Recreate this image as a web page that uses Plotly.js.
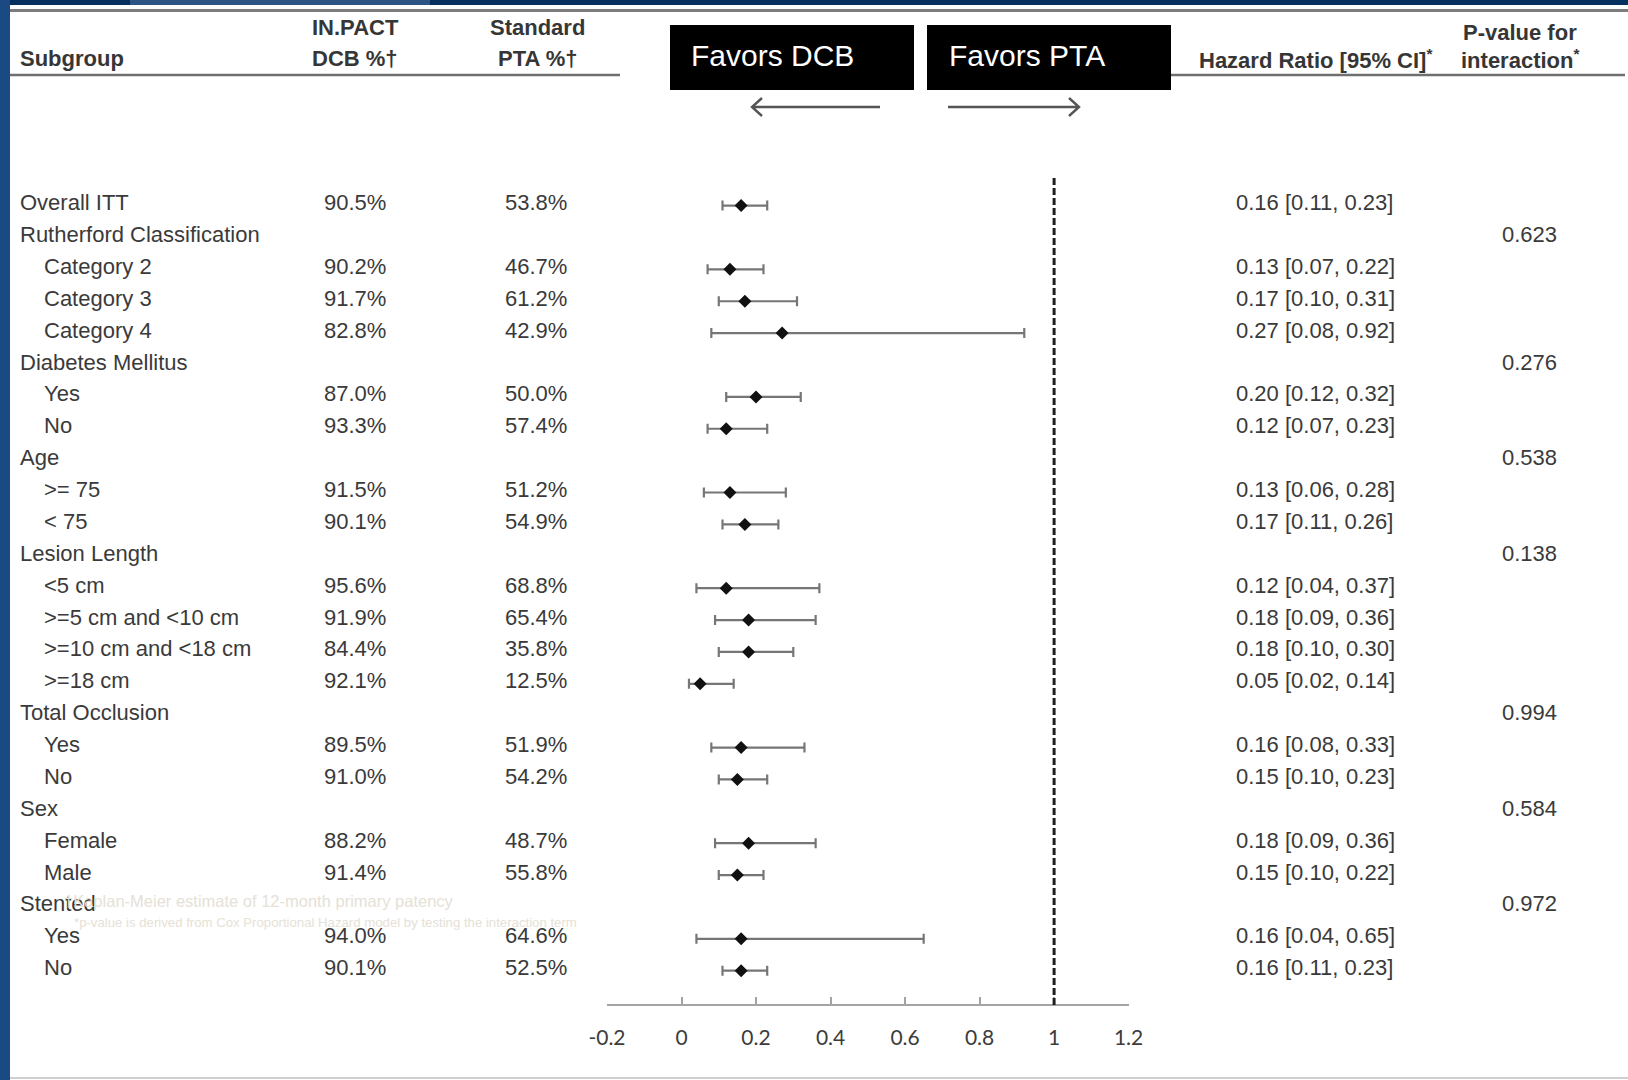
<!DOCTYPE html>
<html>
<head>
<meta charset="utf-8">
<script src="https://cdn.plot.ly/plotly-3.0.1.min.js"></script>
<style>
  html, body { margin: 0; padding: 0; background: #ffffff; }
  #chart { width: 1628px; height: 1080px; }
</style>
</head>
<body>
<div id="chart"></div>
<script>
// Subgroup rows, top to bottom
const subgroups = [
  'Overall ITT',
  'Rutherford Classification', 'Category 2', 'Category 3', 'Category 4',
  'Diabetes Mellitus', 'Yes', 'No',
  'Age', '>= 75', '< 75',
  'Lesion Length', '<5 cm', '>=5 cm and <10 cm', '>=10 cm and <18 cm', '>=18 cm',
  'Total Occlusion', 'Yes', 'No',
  'Sex', 'Female', 'Male',
  'Stented', 'Yes', 'No'
];
// 0 = group heading, 1 = level inside a group
const subgroupLevel = [0, 0,1,1,1, 0,1,1, 0,1,1, 0,1,1,1,1, 0,1,1, 0,1,1, 0,1,1];

// 12-month primary patency (%)
const dcbPct = ['90.5%', '', '90.2%', '91.7%', '82.8%', '', '87.0%', '93.3%', '', '91.5%', '90.1%',
  '', '95.6%', '91.9%', '84.4%', '92.1%', '', '89.5%', '91.0%', '', '88.2%', '91.4%', '', '94.0%', '90.1%'];
const ptaPct = ['53.8%', '', '46.7%', '61.2%', '42.9%', '', '50.0%', '57.4%', '', '51.2%', '54.9%',
  '', '68.8%', '65.4%', '35.8%', '12.5%', '', '51.9%', '54.2%', '', '48.7%', '55.8%', '', '64.6%', '52.5%'];

// Hazard ratios with 95% confidence limits
const hazardRatio = [0.16, null, 0.13, 0.17, 0.27, null, 0.20, 0.12, null, 0.13, 0.17,
  null, 0.12, 0.18, 0.18, 0.05, null, 0.16, 0.15, null, 0.18, 0.15, null, 0.16, 0.16];
const ciLower = [0.11, null, 0.07, 0.10, 0.08, null, 0.12, 0.07, null, 0.06, 0.11,
  null, 0.04, 0.09, 0.10, 0.02, null, 0.08, 0.10, null, 0.09, 0.10, null, 0.04, 0.11];
const ciUpper = [0.23, null, 0.22, 0.31, 0.92, null, 0.32, 0.23, null, 0.28, 0.26,
  null, 0.37, 0.36, 0.30, 0.14, null, 0.33, 0.23, null, 0.36, 0.22, null, 0.65, 0.23];

// Interaction p-values, given on the group heading rows
const pInteraction = ['', '0.623', '', '', '', '0.276', '', '', '0.538', '', '',
  '0.138', '', '', '', '', '0.994', '', '', '0.584', '', '', '0.972', '', ''];

// Hazard ratio axis
const axisTicks = [-0.2, 0, 0.2, 0.4, 0.6, 0.8, 1, 1.2];
const axisTickText = ['-0.2', '0', '0.2', '0.4', '0.6', '0.8', '1', '1.2'];
const noEffect = 1;

// ---- page geometry (pixels) ----
const W = 1628, H = 1080;
const px = x => x / W;
const py = y => 1 - y / H;
const ROW0 = 205.6, ROWH = 31.88;          // first row centre and row pitch
const rowOf = y => (y - ROW0) / ROWH;       // pixel -> row coordinate

const textFont = { family: 'Liberation Sans, Arial, sans-serif', size: 22, color: '#3a3a3a' };
const headFont = { family: 'Liberation Sans, Arial, sans-serif', size: 22, color: '#363636' };

// ---- forest plot marks ----
const rows = subgroups.map((_, i) => i).filter(i => hazardRatio[i] !== null);
const forest = {
  type: 'scatter',
  mode: 'markers',
  x: rows.map(i => hazardRatio[i]),
  y: rows,
  marker: { symbol: 'diamond', size: 10, color: '#111111' },
  error_x: {
    type: 'data',
    symmetric: false,
    array: rows.map(i => ciUpper[i] - hazardRatio[i]),
    arrayminus: rows.map(i => hazardRatio[i] - ciLower[i]),
    color: '#767676',
    thickness: 2.2,
    width: 5
  },
  hoverinfo: 'skip',
  showlegend: false,
  cliponaxis: false
};

// ---- table text ----
const annotations = [];
const addText = (text, x, y, opts) => annotations.push(Object.assign({
  text, x, y, xref: 'paper', yref: 'y', showarrow: false,
  xanchor: 'left', yanchor: 'middle', font: textFont, yshift: 3
}, opts || {}));

subgroups.forEach((name, i) => {
  addText(name, px(subgroupLevel[i] ? 42 : 18), i);
  if (dcbPct[i]) addText(dcbPct[i], px(355), i, { xanchor: 'center' });
  if (ptaPct[i]) addText(ptaPct[i], px(536), i, { xanchor: 'center' });
  if (hazardRatio[i] !== null) {
    const t = hazardRatio[i].toFixed(2) + ' [' + ciLower[i].toFixed(2) + ', ' + ciUpper[i].toFixed(2) + ']';
    addText(t, px(1234), i);
  }
  if (pInteraction[i]) addText(pInteraction[i], px(1529), i, { xanchor: 'center' });
});

// column headings
const addHead = (text, x, y, anchor) => annotations.push({
  text: '<b>' + text + '</b>', x: px(x), y: py(y), xref: 'paper', yref: 'paper',
  showarrow: false, xanchor: anchor, yanchor: 'middle', font: headFont
});
addHead('Subgroup', 18, 59, 'left');
addHead('IN.PACT', 355, 28, 'center');
addHead('DCB %†', 355, 59, 'center');
addHead('Standard', 537, 28, 'center');
addHead('PTA %†', 537, 59, 'center');
addHead('Hazard Ratio [95% CI]<sup>*</sup>', 1315, 59, 'center');
addHead('P-value for', 1520, 32, 'center');
addHead('interaction<sup>*</sup>', 1520, 59, 'center');

// direction labels inside the black boxes
const boxFont = { family: 'Liberation Sans, Arial, sans-serif', size: 30, color: '#ffffff' };
annotations.push({ text: 'Favors DCB', x: px(689), y: py(55), xref: 'paper', yref: 'paper',
  showarrow: false, xanchor: 'left', yanchor: 'middle', font: boxFont });
annotations.push({ text: 'Favors PTA', x: px(947), y: py(55), xref: 'paper', yref: 'paper',
  showarrow: false, xanchor: 'left', yanchor: 'middle', font: boxFont });

// footnotes
annotations.push({ text: '†Kaplan-Meier estimate of 12-month primary patency', x: px(62), y: py(901),
  xref: 'paper', yref: 'paper', showarrow: false, xanchor: 'left', yanchor: 'middle',
  font: { family: 'Liberation Sans, Arial, sans-serif', size: 16.5, color: '#e6e1d6' } });
annotations.push({ text: '*p-value is derived from Cox Proportional Hazard model by testing the interaction term',
  x: px(72), y: py(922), xref: 'paper', yref: 'paper', showarrow: false, xanchor: 'left', yanchor: 'middle',
  font: { family: 'Liberation Sans, Arial, sans-serif', size: 13.2, color: '#e6e1d6' } });

// arrow drawn as an open chevron on a shaft (paper coordinates)
const arrowPath = (tail, head, y) => {
  const d = head < tail ? 1 : -1;
  return 'M' + px(tail) + ',' + py(y) + ' L' + px(head) + ',' + py(y) +
    ' M' + px(head + d * 10) + ',' + py(y - 9) + ' L' + px(head) + ',' + py(y) +
    ' L' + px(head + d * 10) + ',' + py(y + 9);
};

// ---- frame, rules and boxes ----
const shapes = [
  // navy frame
  { type: 'rect', xref: 'paper', yref: 'paper', x0: 0, x1: 1, y0: py(5), y1: 1,
    fillcolor: '#06305f', line: { width: 0 }, layer: 'below' },
  { type: 'rect', xref: 'paper', yref: 'paper', x0: px(130), x1: px(430), y0: py(5), y1: 1,
    fillcolor: '#2c5585', line: { width: 0 }, layer: 'below' },
  { type: 'rect', xref: 'paper', yref: 'paper', x0: 0, x1: px(10), y0: 0, y1: 1,
    fillcolor: '#1b4a82', line: { width: 0 }, layer: 'below' },
  // table rules
  { type: 'line', xref: 'paper', yref: 'paper', x0: px(10), x1: 1, y0: py(10.5), y1: py(10.5),
    line: { color: '#7d7d7d', width: 3 } },
  { type: 'line', xref: 'paper', yref: 'paper', x0: px(10), x1: px(620), y0: py(75), y1: py(75),
    line: { color: '#6f6f6f', width: 2.5 } },
  { type: 'line', xref: 'paper', yref: 'paper', x0: px(1171), x1: px(1625), y0: py(75), y1: py(75),
    line: { color: '#6f6f6f', width: 2.5 } },
  { type: 'line', xref: 'paper', yref: 'paper', x0: px(10), x1: 1, y0: py(1078), y1: py(1078),
    line: { color: '#cfcfcf', width: 2 } },
  // black label boxes
  { type: 'rect', xref: 'paper', yref: 'paper', x0: px(670), x1: px(914), y0: py(90), y1: py(25),
    fillcolor: '#000000', line: { width: 0 } },
  { type: 'rect', xref: 'paper', yref: 'paper', x0: px(927), x1: px(1171), y0: py(90), y1: py(25),
    fillcolor: '#000000', line: { width: 0 } },
  // direction arrows
  { type: 'path', xref: 'paper', yref: 'paper', path: arrowPath(880, 752, 107),
    line: { color: '#555555', width: 2.4 } },
  { type: 'path', xref: 'paper', yref: 'paper', path: arrowPath(948, 1079, 107),
    line: { color: '#555555', width: 2.4 } },
  // line of no effect
  { type: 'line', xref: 'x', yref: 'y', x0: noEffect, x1: noEffect, y0: rowOf(178), y1: rowOf(1005),
    line: { color: '#1e1e1e', width: 3, dash: '7px,3px' } }
];

const layout = {
  width: W, height: H,
  margin: { l: 0, r: 0, t: 0, b: 0, pad: 0 },
  paper_bgcolor: '#ffffff',
  plot_bgcolor: 'rgba(0,0,0,0)',
  showlegend: false,
  xaxis: {
    domain: [px(607), px(1128.6)],
    range: [-0.2, 1.2],
    anchor: 'free',
    position: py(1005),
    showline: true, linecolor: '#a3a3a3', linewidth: 2,
    showgrid: false, zeroline: false,
    ticks: 'inside', ticklen: 7, tickwidth: 2, tickcolor: '#a3a3a3',
    tickvals: axisTicks, ticktext: axisTickText,
    ticklabelstandoff: 14,
    tickfont: { family: 'Lato, Carlito, sans-serif', size: 21, color: '#3c3c3c' },
    fixedrange: true
  },
  yaxis: {
    domain: [0, 1],
    range: [rowOf(H), rowOf(0)],
    visible: false,
    showgrid: false, zeroline: false,
    fixedrange: true
  },
  shapes,
  annotations
};

Plotly.newPlot('chart', [forest], layout, { displayModeBar: false, staticPlot: true });
</script>
</body>
</html>
